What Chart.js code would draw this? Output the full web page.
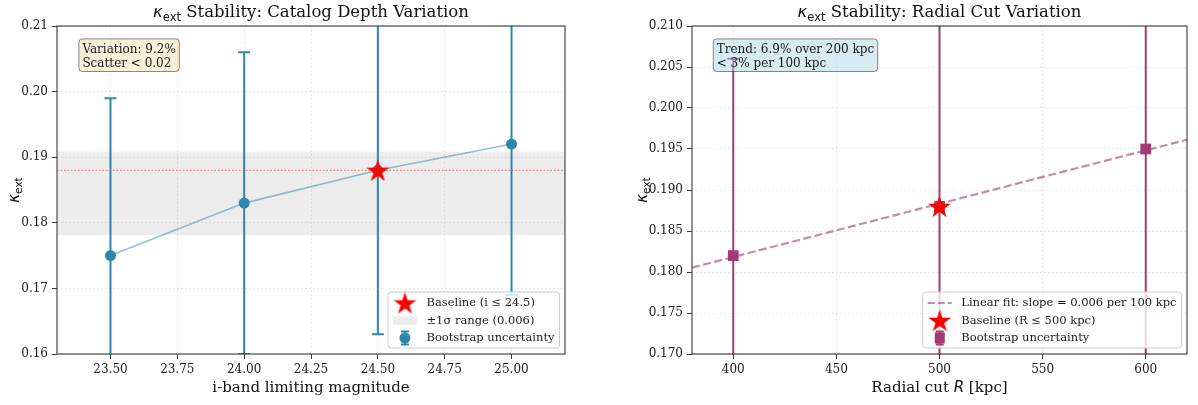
<!DOCTYPE html>
<html><head><meta charset="utf-8">
<script src="https://cdn.jsdelivr.net/npm/chart.js@4.4.1/dist/chart.umd.min.js"></script>
<style>
html,body{margin:0;padding:0;background:#fff;width:1198px;height:405px;overflow:hidden}
.box{position:absolute;top:0;height:405px}
</style></head><body>
<div class="box" style="left:0;width:600px"><canvas id="c1" width="600" height="405"></canvas></div>
<div class="box" style="left:600px;width:598px"><canvas id="c2" width="598" height="405"></canvas></div>
<script>
// ---------------- data ----------------
const depthMags   = [23.5, 24.0, 24.5, 25.0];
const depthKappa  = [0.175, 0.183, 0.188, 0.192];
const depthErr    = [0.024, 0.023, 0.025, 0.023];
const depthBaseline = [24.5, 0.188];
const depthXTicks = [23.5, 23.75, 24.0, 24.25, 24.5, 24.75, 25.0];
const depthYTicks = [0.16, 0.17, 0.18, 0.19, 0.20, 0.21];
const depthXRange = [23.3, 25.2];
const depthYRange = [0.16, 0.21];
const depthLegendLabels = ['Baseline (i \u2264 24.5)', '\u00b11\u03c3 range (0.006)', 'Bootstrap uncertainty'];
const depthNote = ['Variation: 9.2%', 'Scatter < 0.02'];

const radialCuts  = [400, 500, 600];
const radialKappa = [0.182, 0.188, 0.195];
const radialErr   = [0.024, 0.025, 0.026];
const radialBaseline = [500, 0.188];
const radialXTicks = [400, 450, 500, 550, 600];
const radialYTicks = [0.170, 0.175, 0.180, 0.185, 0.190, 0.195, 0.200, 0.205, 0.210];
const radialXRange = [380, 620];
const radialYRange = [0.170, 0.210];
const radialLegendLabels = ['Linear fit: slope = 0.006 per 100 kpc', 'Baseline (R \u2264 500 kpc)', 'Bootstrap uncertainty'];
const radialNote = ['Trend: 6.9% over 200 kpc', '< 3% per 100 kpc'];

// ---------------- styling helpers ----------------
const SERIF = '"DejaVu Serif", serif';
const SANS = '"DejaVu Sans", sans-serif';
const BLUE = '#2E86AB';
const PLUM = '#A23B72';
const TXT = '#1a1a1a';

function makeStar(size){
  const c = document.createElement('canvas'); c.width = size; c.height = size;
  const g = c.getContext('2d'); const cx = size/2, cy = size/2 + 1;
  const R = size/2 - 0.5, r = R*0.382;
  g.beginPath();
  for (let i=0;i<10;i++){
    const a = -Math.PI/2 + i*Math.PI/5, rr = i%2 ? r : R;
    const px = cx + rr*Math.cos(a), py = cy + rr*Math.sin(a);
    i ? g.lineTo(px,py) : g.moveTo(px,py);
  }
  g.closePath(); g.fillStyle = '#ff0000'; g.fill();
  return c;
}
const STAR = makeStar(25);

function drawRich(ctx, parts, cx, baseY){
  let w = 0;
  for (const p of parts){ ctx.font = p.font; w += ctx.measureText(p.t).width; }
  let x = cx - w/2;
  ctx.textAlign = 'left'; ctx.textBaseline = 'alphabetic';
  for (const p of parts){ ctx.font = p.font; ctx.fillText(p.t, x, baseY + (p.dy||0)); x += ctx.measureText(p.t).width; }
}

function roundRect(ctx, x, y, w, h, r){
  ctx.beginPath();
  ctx.moveTo(x+r,y); ctx.lineTo(x+w-r,y); ctx.quadraticCurveTo(x+w,y,x+w,y+r);
  ctx.lineTo(x+w,y+h-r); ctx.quadraticCurveTo(x+w,y+h,x+w-r,y+h);
  ctx.lineTo(x+r,y+h); ctx.quadraticCurveTo(x,y+h,x,y+h-r);
  ctx.lineTo(x,y+r); ctx.quadraticCurveTo(x,y,x+r,y); ctx.closePath();
}

function drawIcon(ctx, kind, x, y){
  ctx.save();
  if (kind === 'star'){
    ctx.drawImage(STAR, x - STAR.width/2, y - STAR.height/2);
  } else if (kind === 'patch'){
    ctx.fillStyle = 'rgba(128,128,128,0.15)';
    ctx.fillRect(x-12, y-4, 24, 8.5);
  } else if (kind === 'errcircle' || kind === 'errsquare'){
    const col = kind === 'errcircle' ? BLUE : PLUM;
    ctx.strokeStyle = col; ctx.lineWidth = 2;
    ctx.beginPath(); ctx.moveTo(x, y-6.5); ctx.lineTo(x, y+6.5);
    ctx.moveTo(x-4, y-6.5); ctx.lineTo(x+4, y-6.5);
    ctx.moveTo(x-4, y+6.5); ctx.lineTo(x+4, y+6.5); ctx.stroke();
    ctx.fillStyle = col;
    if (kind === 'errcircle'){ ctx.beginPath(); ctx.arc(x, y, 5.5, 0, Math.PI*2); ctx.fill(); }
    else ctx.fillRect(x-5, y-5.5, 10, 11);
  } else if (kind === 'dash'){
    ctx.strokeStyle = 'rgba(162,59,114,0.6)'; ctx.lineWidth = 2; ctx.setLineDash([7,3]);
    ctx.beginPath(); ctx.moveTo(x-12, y); ctx.lineTo(x+12, y); ctx.stroke();
  }
  ctx.restore();
}

function overlayPlugin(cfg){
  return {
    id: 'overlay_' + cfg.name,
    afterDatasetDraw(chart, args){
      if (args.index !== cfg.errAfter) return;
      const {ctx, chartArea: a, scales: {x, y}} = chart;
      ctx.save(); ctx.beginPath(); ctx.rect(a.left, a.top, a.width, a.height); ctx.clip();
      ctx.strokeStyle = cfg.errColor; ctx.lineWidth = 2;
      cfg.ex.forEach((xv, i) => {
        const px = x.getPixelForValue(xv);
        const yt = y.getPixelForValue(cfg.ey[i] + cfg.ee[i]);
        const yb = y.getPixelForValue(cfg.ey[i] - cfg.ee[i]);
        ctx.beginPath(); ctx.moveTo(px, yt); ctx.lineTo(px, yb);
        ctx.moveTo(px-6, yt); ctx.lineTo(px+6, yt);
        ctx.moveTo(px-6, yb); ctx.lineTo(px+6, yb); ctx.stroke();
      });
      ctx.restore();
    },
    afterDatasetsDraw(chart){
      const {ctx, chartArea: a} = chart;
      ctx.save();
      // annotation box
      ctx.font = `12px ${SERIF}`;
      const tx = a.left + 0.05*a.width, ty = a.top + 0.05*a.height;
      const lh = 13.8;
      const tw = Math.max(...cfg.note.map(s => ctx.measureText(s).width));
      roundRect(ctx, tx-3.5, ty-3.5, tw+7, lh*cfg.note.length+5, 3.5);
      ctx.fillStyle = cfg.noteBg; ctx.fill();
      ctx.strokeStyle = 'rgba(0,0,0,0.45)'; ctx.lineWidth = 1; ctx.stroke();
      ctx.fillStyle = TXT; ctx.textAlign = 'left'; ctx.textBaseline = 'alphabetic';
      cfg.note.forEach((s, i) => ctx.fillText(s, tx, ty + 10.5 + i*lh));
      // spines
      ctx.strokeStyle = '#3a3a3a'; ctx.lineWidth = 1.1;
      ctx.strokeRect(a.left, a.top, a.width, a.height);
      // legend
      ctx.font = `11.5px ${SERIF}`;
      const maxW = Math.max(...cfg.legend.map(it => ctx.measureText(it.label).width));
      const rowH = 17.5, padTop = 11, padBot = 10;
      const w = 38.5 + maxW + 5, h = padTop + rowH*(cfg.legend.length-1) + padBot;
      const right = a.right - 5.5, bottom = a.bottom - 6;
      const left = right - w, top = bottom - h;
      roundRect(ctx, left, top, w, h, 3);
      ctx.fillStyle = 'rgba(255,255,255,0.8)'; ctx.fill();
      ctx.strokeStyle = '#cccccc'; ctx.lineWidth = 1; ctx.stroke();
      cfg.legend.forEach((it, i) => {
        const cy = top + padTop + i*rowH;
        drawIcon(ctx, it.kind, left + 17, cy);
        ctx.fillStyle = TXT; ctx.textAlign = 'left'; ctx.textBaseline = 'middle';
        ctx.font = `11.5px ${SERIF}`;
        ctx.fillText(it.label, left + 38.5, cy + 0.5);
      });
      ctx.restore();
    },
    afterDraw(chart){
      const {ctx, chartArea: a} = chart;
      ctx.save(); ctx.fillStyle = '#111';
      const cx = (a.left + a.right)/2;
      drawRich(ctx, [
        {t: '\u03ba', font: `italic 16.5px ${SANS}`},
        {t: 'ext', font: `11.5px ${SANS}`, dy: 3.5},
        {t: ' Stability: ' + cfg.title, font: `16.5px ${SERIF}`}
      ], cx, 17);
      drawRich(ctx, cfg.xlabel, cx, 392);
      ctx.translate(cfg.ylabelX, (a.top + a.bottom)/2);
      ctx.rotate(-Math.PI/2);
      drawRich(ctx, [
        {t: '\u03ba', font: `italic 15px ${SANS}`},
        {t: 'ext', font: `10.5px ${SANS}`, dy: 3.2}
      ], 0, 5);
      ctx.restore();
    }
  };
}

function axes(xr, yr, xt, yt, xfmt, yfmt, yWidth){
  const grid = {color: 'rgba(170,170,170,0.45)', lineWidth: 0.8, tickColor: '#3a3a3a', tickLength: 5, tickWidth: 1, tickBorderDash: []};
  const ticks = {font: {family: SERIF, size: 12}, color: TXT, autoSkip: false, maxRotation: 0, padding: 4};
  return {
    x: {type: 'linear', min: xr[0], max: xr[1], grid: {...grid}, border: {display: false, dash: [1.5, 2.5]},
        ticks: {...ticks, callback: xfmt},
        afterBuildTicks: s => { s.ticks = xt.map(v => ({value: v})); },
        afterFit: s => { s.height = 51; }},
    y: {type: 'linear', min: yr[0], max: yr[1], grid: {...grid}, border: {display: false, dash: [1.5, 2.5]},
        ticks: {...ticks, callback: yfmt},
        afterBuildTicks: s => { s.ticks = yt.map(v => ({value: v})); },
        afterFit: s => { s.width = yWidth; }}
  };
}

Chart.defaults.font.family = SERIF;

// ---------------- left chart ----------------
const mean = depthKappa.reduce((a,b)=>a+b,0)/depthKappa.length;
const sd = Math.sqrt(depthKappa.reduce((a,b)=>a+(b-mean)**2,0)/depthKappa.length);
const bandHi = depthXRange.map(x => ({x, y: mean + sd}));
const bandLo = depthXRange.map(x => ({x, y: mean - sd}));
const baseLine1 = depthXRange.map(x => ({x, y: depthBaseline[1]}));
const depthPts = depthMags.map((x, i) => ({x, y: depthKappa[i]}));

new Chart(document.getElementById('c1'), {
  type: 'line',
  data: {datasets: [
    {data: bandHi, borderWidth: 0, pointRadius: 0, fill: false, order: 10, borderColor: 'rgba(0,0,0,0)'},
    {data: bandLo, borderWidth: 0, pointRadius: 0, fill: '-1', backgroundColor: 'rgba(128,128,128,0.15)', order: 9, borderColor: 'rgba(0,0,0,0)'},
    {data: baseLine1, borderColor: 'rgba(255,0,0,0.55)', borderWidth: 1, borderDash: [1.5, 2], pointRadius: 0, fill: false, order: 8},
    {data: depthPts, borderColor: 'rgba(46,134,171,0.5)', borderWidth: 1.6, pointRadius: 0, fill: false, order: 7},
    {data: depthPts, showLine: false, pointRadius: 5.5, pointBackgroundColor: BLUE, pointBorderColor: BLUE, pointBorderWidth: 0, order: 1},
    {data: [{x: depthBaseline[0], y: depthBaseline[1]}], showLine: false, pointStyle: STAR, pointRadius: 10, order: 0}
  ]},
  options: {
    responsive: false, animation: false, events: [], devicePixelRatio: 1,
    layout: {padding: {left: 0, right: 35, top: 26, bottom: 0}},
    plugins: {legend: {display: false}, tooltip: {enabled: false}},
    scales: axes(depthXRange, depthYRange, depthXTicks, depthYTicks, v => v.toFixed(2), v => v.toFixed(2), 57)
  },
  plugins: [overlayPlugin({
    name: 'depth', errAfter: 3, ex: depthMags, ey: depthKappa, ee: depthErr, errColor: BLUE,
    note: depthNote, noteBg: 'rgba(245,222,179,0.5)',
    legend: [{kind: 'star', label: depthLegendLabels[0]}, {kind: 'patch', label: depthLegendLabels[1]}, {kind: 'errcircle', label: depthLegendLabels[2]}],
    title: 'Catalog Depth Variation',
    xlabel: [{t: 'i-band limiting magnitude', font: `15px ${SERIF}`}],
    ylabelX: 14
  })]
});

// ---------------- right chart ----------------
const mx = radialCuts.reduce((a,b)=>a+b,0)/radialCuts.length;
const my = radialKappa.reduce((a,b)=>a+b,0)/radialKappa.length;
let sxy = 0, sxx = 0;
radialCuts.forEach((x, i) => { sxy += (x-mx)*(radialKappa[i]-my); sxx += (x-mx)**2; });
const slope = sxy/sxx, icpt = my - slope*mx;
const fitLine = radialXRange.map(x => ({x, y: icpt + slope*x}));
const radialPts = radialCuts.map((x, i) => ({x, y: radialKappa[i]}));

new Chart(document.getElementById('c2'), {
  type: 'line',
  data: {datasets: [
    {data: fitLine, borderColor: 'rgba(162,59,114,0.6)', borderWidth: 2.2, borderDash: [8, 3.5], pointRadius: 0, fill: false, order: 5},
    {data: radialPts, showLine: false, pointStyle: 'rect', pointRadius: 7.6, pointBackgroundColor: PLUM, pointBorderColor: PLUM, pointBorderWidth: 0, order: 1},
    {data: [{x: radialBaseline[0], y: radialBaseline[1]}], showLine: false, pointStyle: STAR, pointRadius: 10, order: 0}
  ]},
  options: {
    responsive: false, animation: false, events: [], devicePixelRatio: 1,
    layout: {padding: {left: 0, right: 6, top: 26, bottom: 0}},
    plugins: {legend: {display: false}, tooltip: {enabled: false}},
    scales: axes(radialXRange, radialYRange, radialXTicks, radialYTicks, v => String(v), v => v.toFixed(3), 92)
  },
  plugins: [overlayPlugin({
    name: 'radial', errAfter: 0, ex: radialCuts, ey: radialKappa, ee: radialErr, errColor: PLUM,
    note: radialNote, noteBg: 'rgba(173,216,230,0.5)',
    legend: [{kind: 'dash', label: radialLegendLabels[0]}, {kind: 'star', label: radialLegendLabels[1]}, {kind: 'errsquare', label: radialLegendLabels[2]}],
    title: 'Radial Cut Variation',
    xlabel: [{t: 'Radial cut ', font: `15px ${SERIF}`}, {t: 'R', font: `italic 15px ${SANS}`}, {t: ' [kpc]', font: `15px ${SERIF}`}],
    ylabelX: 42
  })]
});
</script>
</body></html>
